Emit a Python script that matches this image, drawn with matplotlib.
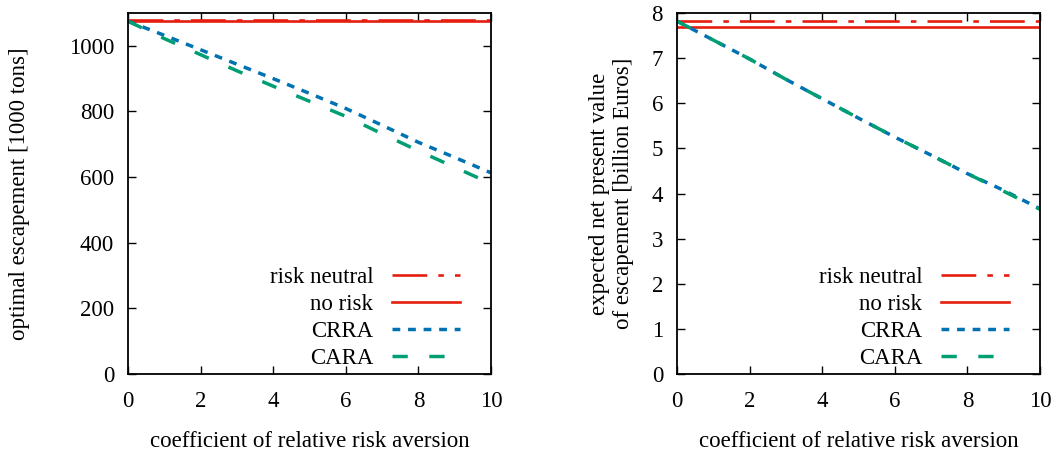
import numpy as np
import matplotlib
matplotlib.use("Agg")
import matplotlib.pyplot as plt

plt.rcParams['font.family'] = ['Liberation Serif', 'DejaVu Serif']
plt.rcParams['font.size'] = 16.5
plt.rcParams['lines.scale_dashes'] = False

# coefficient of relative risk aversion
gamma = [0, 1, 2, 3, 4, 5, 6, 7, 8, 9, 10]

# optimal escapement [1000 tons]
esc_neutral = 1078
esc_norisk = 1075
esc_crra = [1075, 1032, 988, 944, 900, 855, 809, 758, 706, 660, 613]
esc_cara = [1075, 1022, 973, 924, 877, 831, 785, 732, 680, 630, 580]

# expected NPV [billion Euros]
npv_neutral = 7.83
npv_norisk = 7.69
npv_crra = [7.82, 7.40, 6.98, 6.53, 6.10, 5.67, 5.25, 4.85, 4.44, 4.07, 3.66]
npv_cara = [7.82, 7.40, 6.98, 6.53, 6.10, 5.67, 5.25, 4.85, 4.44, 4.05, 3.65]

red = '#e51e10'
blue = '#0072b2'
green = '#009e73'

fig = plt.figure(figsize=(10.53, 4.53), dpi=100)
W, H = 1053., 453.
ax1 = fig.add_axes([128/W, 1-374/H, 363/W, 361/H])
ax2 = fig.add_axes([677/W, 1-374/H, 363/W, 361/H])


def draw(ax, neutral, norisk, crra, cara):
    ax.axhline(neutral, color=red, lw=1.9, dashes=(25, 8, 4, 8), label='risk neutral')
    ax.axhline(norisk, color=red, lw=1.9, label='no risk')
    ax.plot(gamma, crra, color=blue, lw=2.5, dashes=(5.6, 5.6), label='CRRA')
    ax.plot(gamma, cara, color=green, lw=2.5, dashes=(11, 15.5), label='CARA')
    ax.set_xlim(0, 10)
    ax.set_xticks(range(0, 11, 2))
    ax.tick_params(axis='x', pad=12)
    ax.tick_params(direction='in', length=6, width=1, top=True, right=True)
    ax.tick_params(axis='y', pad=10)
    for s in ax.spines.values():
        s.set_linewidth(1.3)
    ax.set_xlabel('coefficient of relative risk aversion', labelpad=14)
    leg = ax.legend(loc='lower right', bbox_to_anchor=(0.96, -0.03), frameon=False,
                    markerfirst=False, handlelength=3.0, handletextpad=0.8,
                    labelspacing=0.25, borderaxespad=0.3)
    for col in leg._legend_handle_box.get_children():
        col.align = 'right'


draw(ax1, esc_neutral, esc_norisk, esc_crra, esc_cara)
ax1.set_ylim(0, 1100)
ax1.set_yticks(range(0, 1001, 200))
ax1.set_ylabel('optimal escapement [1000 tons]', labelpad=28)

draw(ax2, npv_neutral, npv_norisk, npv_crra, npv_cara)
ax2.set_ylim(0, 8)
ax2.set_yticks(range(0, 9))
ax2.set_ylabel('expected net present value\nof escapement [billion Euros]', labelpad=13,
               linespacing=1.15)

fig.savefig('out.png', dpi=100)
